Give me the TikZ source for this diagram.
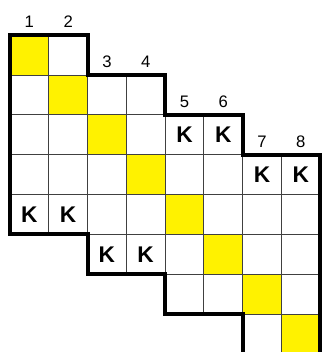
\documentclass[tikz,border=0pt]{standalone}
\usepackage{fontspec}
\setmainfont{Liberation Sans}
\begin{document}
\begin{tikzpicture}[x=29.06pt,y=-29.87pt,
	cell/.style={draw=black!75,line width=0.75pt},
	diag/.style={cell,fill=yellow},
	rim/.style={line width=3pt,line join=miter},
	colnum/.style={font=\fontsize{12.5}{14}\selectfont},
	kmark/.style={font=\fontsize{17}{19}\selectfont\bfseries}]
	\useasboundingbox (-0.258,-0.884) rectangle (8.052,7.95);
	% each pair of columns is five rows deep, one row lower than the pair before
	\foreach \c in {1,...,8}{
		\pgfmathtruncatemacro\t{(\c-1)/2}
		\foreach \r in {1,...,5}{
			\pgfmathtruncatemacro\rr{\t+\r}
			\draw[cell] (\c-1,\rr-1) rectangle (\c,\rr);
		}
		\node[colnum] (num\c) at (\c-0.5,\t-0.33) {\c};
	}
	\foreach \i in {1,...,8}
		\draw[diag] (\i-1,\i-1) rectangle (\i,\i);
	\node[kmark] (k53) at (4.5,2.5) {K};
	\node[kmark] (k63) at (5.5,2.5) {K};
	\node[kmark] (k74) at (6.5,3.5) {K};
	\node[kmark] (k84) at (7.5,3.5) {K};
	\node[kmark] (k15) at (0.5,4.5) {K};
	\node[kmark] (k25) at (1.5,4.5) {K};
	\node[kmark] (k36) at (2.5,5.5) {K};
	\node[kmark] (k46) at (3.5,5.5) {K};
	\draw[rim] (0,0) -- (2,0) -- (2,1) -- (4,1) -- (4,2) -- (6,2) -- (6,3) -- (8,3)
		-- (8,8) -- (6,8) -- (6,7) -- (4,7) -- (4,6) -- (2,6) -- (2,5) -- (0,5) -- cycle;
\end{tikzpicture}
\end{document}
